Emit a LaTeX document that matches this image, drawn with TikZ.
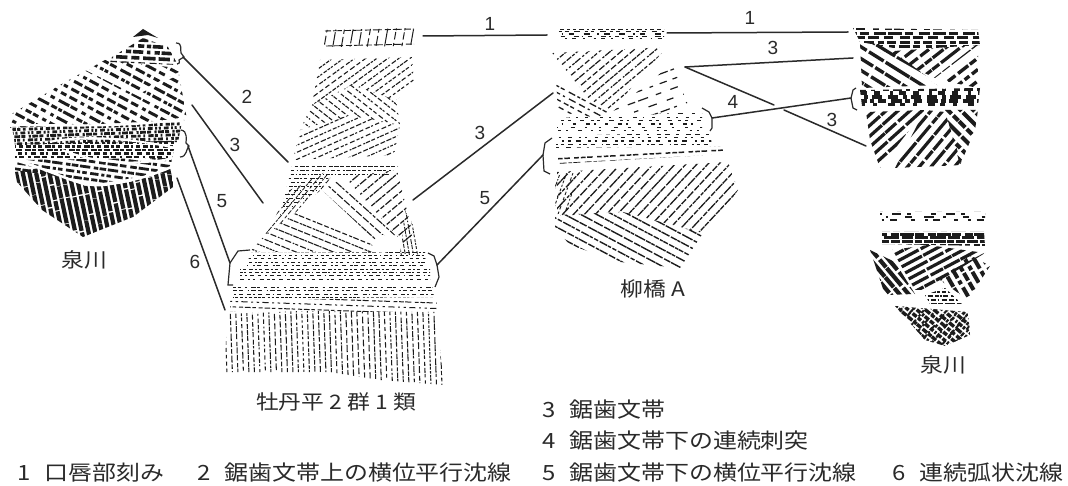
\documentclass[tikz,border=0pt]{standalone}
\usepackage{fontspec}
\setmainfont{Liberation Sans}
\newfontfamily\jp[FakeStretch=1.14]{Noto Sans CJK JP}
\definecolor{ink}{HTML}{1C1C1C}
\definecolor{txt}{HTML}{2A2A2A}
\newcommand\hreg[8]{% polygon, cx, cy, angle, spacing, width, on, off
  \begin{scope}
    \clip #1 -- cycle;
    \pgfmathsetmacro\hdx{cos(#4)}
    \pgfmathsetmacro\hdy{sin(#4)}
    \pgfmathtruncatemacro\hn{ceil(110/#5)}
    \foreach \hi in {-\hn,...,\hn}{
      \pgfmathsetmacro\hpx{#2-\hi*#5*\hdy}
      \pgfmathsetmacro\hpy{#3+\hi*#5*\hdx}
      \pgfmathsetmacro\ha{#7*(0.4+1.2*rnd)}
      \pgfmathsetmacro\hb{#8*(0.4+1.2*rnd)}
      \pgfmathsetmacro\hc{#7*(0.4+1.2*rnd)}
      \pgfmathsetmacro\hd{#8*(0.4+1.2*rnd)}
      \pgfmathsetmacro\hf{#7*(0.4+1.2*rnd)}
      \pgfmathsetmacro\hg{#8*(0.4+1.2*rnd)}
      \pgfmathsetmacro\he{rnd*25}
      \draw[ink,line width=#6pt,dash pattern=on \ha pt off \hb pt on \hc pt off \hd pt on \hf pt off \hg pt,dash phase=\he pt]
        (\hpx-130*\hdx,\hpy-130*\hdy) -- (\hpx+130*\hdx,\hpy+130*\hdy);
    }
  \end{scope}}
\tikzset{
  conn/.style={draw=txt,line width=1.5pt,line cap=round},
  bracket/.style={draw=txt,line width=1.2pt},
  num/.style={text=txt,font=\fontsize{19}{19}\selectfont,inner sep=0pt},
  potname/.style={text=txt,font=\fontsize{20}{20}\selectfont\jp,inner sep=0pt},
  legend/.style={text=txt,font=\fontsize{21}{21}\selectfont\jp,inner sep=0pt,anchor=west}
}
\begin{document}
\begin{tikzpicture}[x=1pt,y=-1pt]
\useasboundingbox (0,0) rectangle (1068,486);
\fill[white] (0,0) rectangle (1068,486);
\pgfmathsetseed{4242}

%%% left sherd (Izumikawa)
\fill[ink] (133,37) -- (143,29) -- (158,38) -- (148,35) -- cycle;
\hreg{(112,57)--(143,38)--(168,47)--(178,65)--(110,62)}{140}{52}{3}{6}{3.6}{8}{3}
\hreg{(60,85)--(105,60)--(178,68)--(187,120)--(10,128)--(10,115)}{100}{95}{28}{8}{3}{8}{3.5}
\hreg{(12,127)--(182,122)--(178,142)--(15,145)}{95}{134}{-2}{3.6}{2.8}{4}{2.2}
\hreg{(15,144)--(176,140)--(172,158)--(15,158)}{95}{150}{0}{3.6}{2.6}{4}{2.4}
\hreg{(15,160)--(172,158)--(170,172)--(90,185)--(15,170)}{95}{168}{8}{6}{2.8}{7}{2.5}
\hreg{(15,172)--(40,168)--(85,186)--(130,182)--(172,168)--(173,187)--(133,217)--(83,237)--(42,210)--(17,182)}{95}{200}{78}{6.5}{4.2}{22}{1}
\draw[white,line width=2.2pt] (10,125) .. controls (70,125) and (130,128) .. (186,118);
\draw[white,line width=2pt] (50,142) .. controls (80,135) and (130,138) .. (176,148);
\draw[white,line width=2.5pt] (14,160) .. controls (60,172) and (80,190) .. (110,184) .. controls (140,180) and (160,172) .. (176,165);
\draw[white,line width=2pt] (62,150) .. controls (100,165) and (140,165) .. (175,158);
\draw[white,line width=2.4pt] (78,65) -- (185,118);
\draw[white,line width=2.2pt] (140,92) -- (186,70);

%%% central pot: rim
\hreg{(323,30)--(415,28)--(415,46)--(323,47)}{369}{37}{100}{8.5}{1}{14}{2.5}
\draw[ink,line width=0.9pt,dash pattern=on 6pt off 2pt on 9pt off 3pt] (325,31) -- (414,29) (326,46) -- (414,44);
%%% neck zigzag
\hreg{(320,60)--(412,57)--(414,85)--(396,100)--(352,85)--(312,105)}{365}{75}{-36}{6.5}{1.1}{3.5}{1.8}
\hreg{(312,105)--(352,85)--(396,100)--(400,125)--(350,115)--(300,130)}{355}{105}{38}{6.5}{1.1}{3.5}{1.8}
\hreg{(300,130)--(350,115)--(400,125)--(394,155)--(293,160)}{345}{138}{-24}{6.5}{1.1}{3.5}{1.8}
%%% central pot: body
\hreg{(292,166)--(398,166)--(385,178)--(330,176)--(320,190)--(280,215)}{330}{170}{0}{4}{.9}{3}{2.2}
\hreg{(265,235)--(290,190)--(325,172)--(332,180)--(296,212)}{290}{205}{-50}{4.5}{0.8}{3.5}{2.2}
\hreg{(345,177)--(397,170)--(413,235)--(405,245)}{385}{205}{-40}{8}{1.2}{5}{1.3}
\hreg{(322,190)--(340,180)--(395,235)--(375,240)}{355}{210}{42}{8}{1.1}{5}{1.3}
\hreg{(265,235)--(300,210)--(370,240)--(375,252)--(250,252)}{310}{235}{22}{7}{1.1}{4}{1.5}
\hreg{(405,210)--(416,230)--(420,255)--(400,255)}{410}{235}{80}{4}{0.9}{3}{1.5}
\hreg{(250,253)--(425,252)--(426,266)--(247,266)}{336}{259}{0}{3.4}{1}{3}{3}
\hreg{(240,270)--(430,270)--(430,282)--(240,282)}{336}{276}{0}{3.4}{1}{3}{3}
\hreg{(233,286)--(432,285)--(434,297)--(233,299)}{336}{291}{0}{3.4}{1}{3}{3.4}
\hreg{(230,300)--(436,298)--(438,312)--(230,312)}{336}{305}{2}{5.5}{1}{4}{2.4}
\hreg{(228,314)--(300,311)--(436,312)--(440,350)--(444,385)--(380,380)--(330,372)--(225,372)--(226,340)}{336}{345}{88}{5.5}{1.05}{4.5}{2}
\fill[white] (383,244) circle (9pt);

%%% Yanagibashi A pot
\hreg{(558,30)--(664,30)--(664,39)--(558,39)}{610}{34}{0}{2.6}{1.6}{4}{6}
\hreg{(552,53)--(667,47)--(612,110)--(590,100)}{610}{70}{-40}{7}{1.2}{4.5}{1.8}
\hreg{(612,112)--(672,64)--(690,110)--(650,115)}{655}{95}{-20}{9}{1.2}{7}{7}
\hreg{(556,80)--(612,112)--(600,118)--(558,112)}{580}{98}{28}{6}{1.3}{5}{3}
\hreg{(557,118)--(702,112)--(702,131)--(557,133)}{630}{124}{0}{3.4}{1.3}{3}{8}
\hreg{(556,136)--(710,132)--(712,146)--(556,148)}{630}{141}{0}{3.4}{1.3}{3.5}{5}
\hreg{(556,156)--(722,146)--(724,154)--(556,164)}{630}{155}{-3}{5}{1.5}{5}{3}
\hreg{(557,172)--(728,162)--(738,190)--(725,210)--(703,233)--(623,212)--(557,216)}{640}{190}{-47}{8}{1.3}{7}{1.2}
\hreg{(555,215)--(623,212)--(703,233)--(680,268)--(620,262)--(570,245)--(555,228)}{625}{238}{28}{7.5}{1.4}{8}{1.2}
\hreg{(555,175)--(575,172)--(570,210)--(555,215)}{565}{195}{-70}{6}{.9}{3}{1.5}

%%% upper right sherd
\hreg{(853,28)--(978,30)--(980,45)--(905,50)--(860,42)}{915}{38}{0}{4.5}{3}{9}{5}
\hreg{(880,52)--(978,45)--(935,78)}{930}{60}{-38}{9}{3.2}{16}{2}
\hreg{(860,42)--(885,45)--(938,85)--(862,88)}{890}{65}{32}{10}{3.4}{18}{2}
\hreg{(940,80)--(978,52)--(978,88)}{960}{72}{-38}{9}{3.4}{10}{2.5}
\hreg{(860,90)--(980,88)--(978,106)--(862,106)}{920}{97}{0}{4}{3.2}{7}{7}
\hreg{(866,112)--(925,110)--(880,168)--(870,140)}{895}{135}{-42}{8}{3.2}{20}{2}
\hreg{(925,110)--(945,112)--(962,165)--(895,168)}{930}{140}{-50}{9}{3.2}{18}{2}
\hreg{(945,110)--(978,110)--(975,130)--(960,165)}{960}{135}{45}{9}{4}{14}{2}
\draw[white,line width=2.5pt] (875,48) -- (945,88);
\draw[white,line width=2.5pt] (930,85) -- (980,48);
\draw[white,line width=1.5pt] (858,108) -- (985,108);

%%% lower right sherd
\hreg{(880,212)--(985,212)--(985,221)--(880,222)}{933}{217}{0}{3}{2.2}{6}{13}
\hreg{(882,232)--(984,232)--(985,246)--(882,244)}{933}{238}{0}{3.6}{3}{10}{2.5}
\hreg{(892,250)--(928,245)--(985,253)--(925,290)--(915,290)}{935}{265}{-28}{7}{3.2}{22}{2}
\hreg{(870,250)--(895,262)--(915,294)--(885,295)}{890}{272}{50}{7}{4.2}{20}{2}
\hreg{(940,280)--(970,255)--(990,266)--(968,300)}{965}{275}{-120}{8}{4}{9}{2.5}
\hreg{(925,295)--(945,288)--(962,304)--(930,304)}{945}{296}{0}{4}{2}{4}{1.5}
\hreg{(895,306)--(968,312)--(970,335)--(945,346)--(925,340)}{935}{325}{40}{5.5}{3.4}{4.5}{1.6}
\hreg{(895,306)--(968,312)--(970,335)--(945,346)--(925,340)}{935}{325}{-50}{9}{2}{4}{3}

%%% brackets with connector ends
\coordinate (b2) at (183,57);
\draw[bracket] (176,43) .. controls (183,43) and (180,50) .. (181,53) -- (184,57) -- (179,60) .. controls (180,63) and (179,64) .. (177,64);
\coordinate (b56) at (188,146);
\draw[bracket] (181,130) .. controls (188,131) and (186,140) .. (186,143) -- (189,146) .. controls (186,149) and (187,157) .. (180,157);
\coordinate (c56) at (230,263);
\draw[bracket] (250,250) -- (238,251) -- (230,263) -- (228,285) -- (233,285);
\coordinate (d5) at (437,265);
\draw[bracket] (428,253) -- (434,256) -- (437,265) -- (439,277) -- (435,287);
\coordinate (e5) at (543,155);
\draw[bracket] (552,138) -- (545,143) -- (543,155) -- (544,171) -- (550,174);
\coordinate (e4) at (712,118);
\draw[bracket] (702,108) -- (709,112) -- (712,118) -- (712,128) -- (710,131);
\coordinate (f4) at (851,98);
\draw[bracket] (856,88) -- (853,90) -- (851,98) -- (853,108) -- (857,110);

%%% connectors
\coordinate (m2) at (288,162);
\coordinate (l3) at (192,105);
\coordinate (m3) at (263,203);
\coordinate (l6) at (177,178);
\coordinate (m6) at (225,310);
\coordinate (m3r) at (413,200);
\coordinate (y3) at (553,93);
\coordinate (m1) at (423,36);
\coordinate (y1a) at (547,35);
\coordinate (y1b) at (667,33);
\coordinate (r1) at (848,32);
\coordinate (y3r) at (685,67);
\coordinate (r3a) at (853,58);
\coordinate (r3b) at (866,146);
\coordinate (g1) at (774,105);
\coordinate (g2) at (784,110);
\draw[conn] (b2) -- (m2);
\draw[conn] (l3) -- (m3);
\draw[conn] (b56) -- (c56);
\draw[conn] (l6) -- (m6);
\draw[conn] (m3r) -- (y3);
\draw[conn] (d5) -- (e5);
\draw[conn] (m1) -- (y1a);
\draw[conn] (y1b) -- (r1);
\draw[conn] (y3r) -- (r3a);
\draw[conn] (y3r) -- (g1);
\draw[conn] (g2) -- (r3b);
\draw[conn] (e4) -- (f4);

%%% connector labels
\node[num] (n2) at (247,97) {2};
\node[num] (n3a) at (235,145) {3};
\node[num] (n5a) at (222,201) {5};
\node[num] (n6) at (195,262) {6};
\node[num] (n1a) at (490,24) {1};
\node[num] (n3b) at (480,133) {3};
\node[num] (n5b) at (485,198) {5};
\node[num] (n1b) at (750,18) {1};
\node[num] (n3c) at (773,48) {3};
\node[num] (n4) at (733,102) {4};
\node[num] (n3d) at (832,120) {3};

%%% names
\node[potname] (izumi1) at (84,260) {泉川};
\node[potname] (izumi2) at (943,365) {泉川};
\node[potname] (yana) at (653,289) {柳橋 A};
\node[potname] (botan) at (336,402) {牡丹平 2 群 1 類};

%%% legend
\node[legend] (leg3) at (542,410) {3\hspace{14pt}鋸歯文帯};
\node[legend] (leg4) at (542,441) {4\hspace{14pt}鋸歯文帯下の連続刺突};
\node[legend] (leg1) at (17,473) {1\hspace{14pt}口唇部刻み};
\node[legend] (leg2) at (197,473) {2\hspace{14pt}鋸歯文帯上の横位平行沈線};
\node[legend] (leg5) at (542,473) {5\hspace{14pt}鋸歯文帯下の横位平行沈線};
\node[legend] (leg6) at (892,473) {6\hspace{14pt}連続弧状沈線};
\end{tikzpicture}
\end{document}
